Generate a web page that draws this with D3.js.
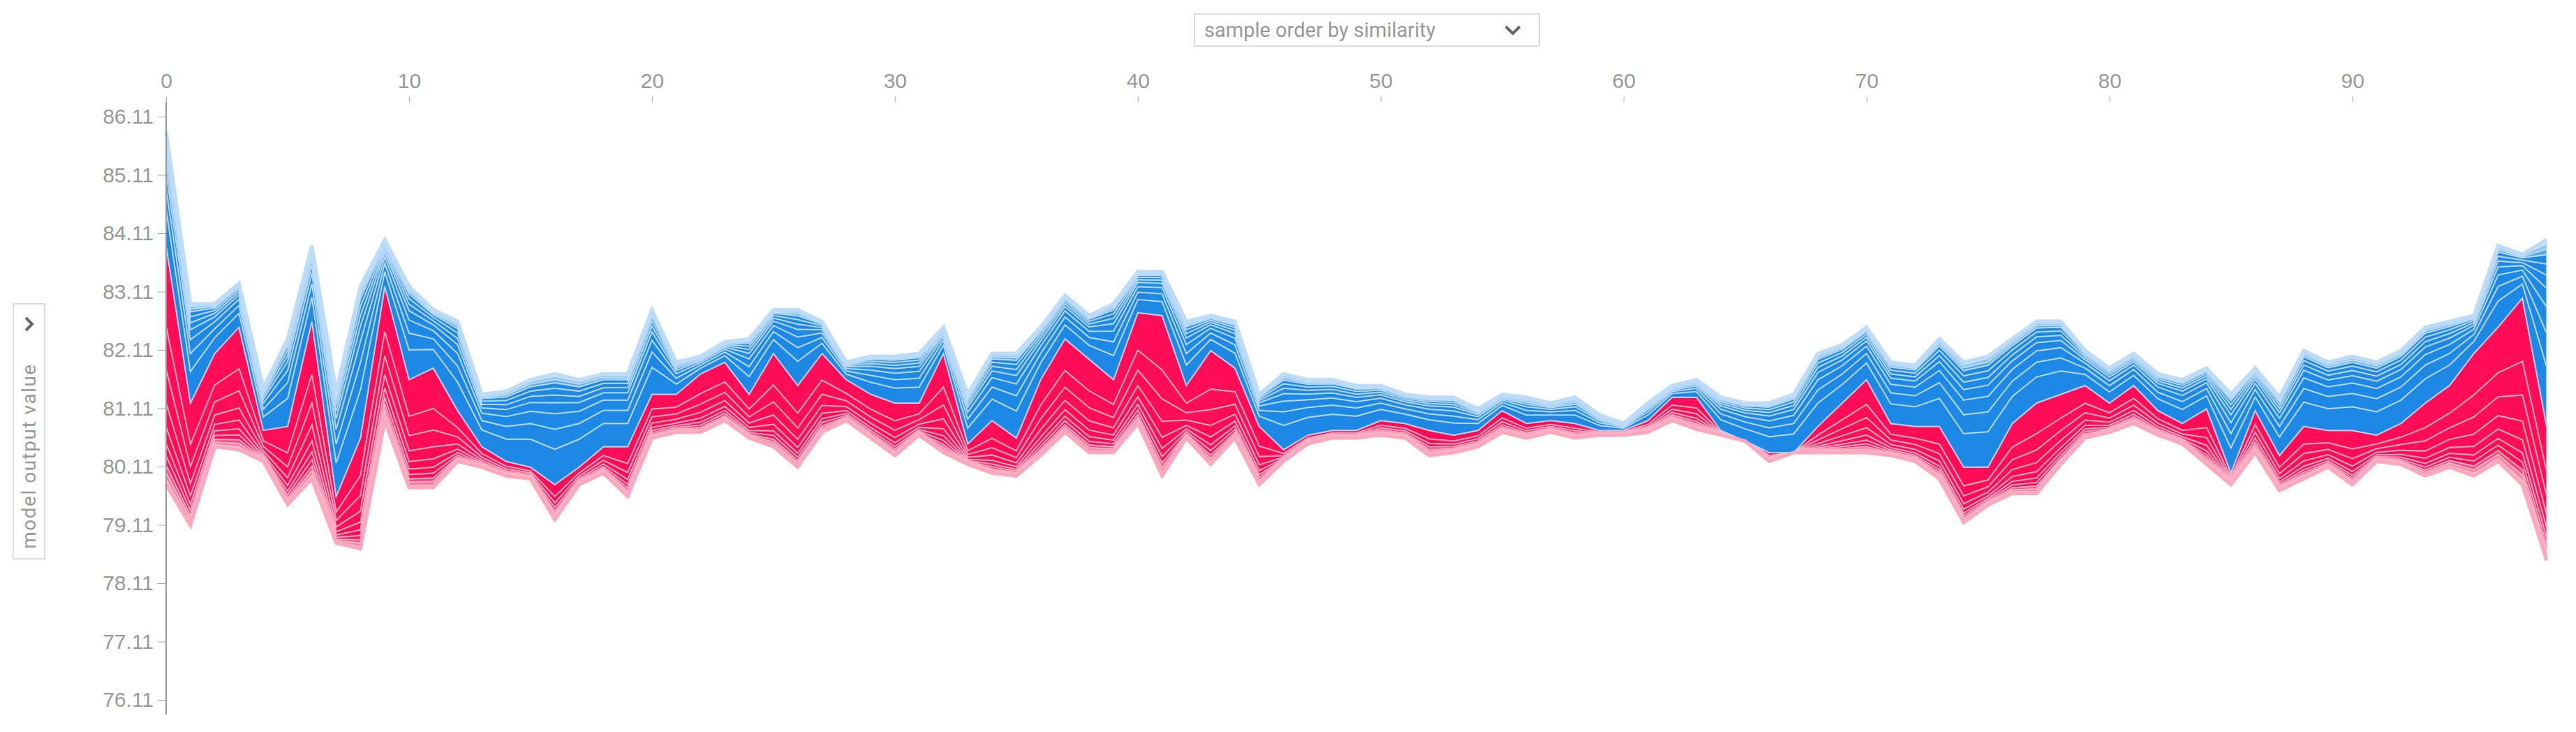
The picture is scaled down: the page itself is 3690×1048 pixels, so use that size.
<!DOCTYPE html>
<html>
<head>
<meta charset="utf-8">
<script src="https://cdn.jsdelivr.net/npm/d3@7"></script>
<style>
  body { margin: 0; background: #fff; }
  svg { display: block; font-family: Roboto, "Liberation Sans", sans-serif; }
  .tick text { fill: #999; font-size: 30px; }
  .tick line { stroke: #aaa; }
</style>
</head>
<body>
<svg id="chart" width="3690" height="1048"></svg>
<script>
// Sample order (0..98)
const samples = d3.range(99);

// Top of the blue (negative) stack per sample
const upper = [85.86,82.9,82.9,83.25,81.46,82.3,83.9,81.4,83.2,84.0,
  83.2,82.8,82.6,81.35,81.4,81.6,81.7,81.6,81.7,81.7,
  82.8,81.9,82.0,82.25,82.3,82.8,82.8,82.6,81.9,82.0,
  82.0,82.05,82.5,81.35,82.05,82.05,82.5,83.05,82.7,82.9,
  83.45,83.45,82.6,82.7,82.6,81.35,81.7,81.6,81.6,81.5,
  81.5,81.35,81.3,81.3,81.1,81.35,81.3,81.2,81.3,81.0,
  80.85,81.2,81.5,81.6,81.3,81.2,81.2,81.35,82.05,82.2,
  82.5,81.9,81.85,82.3,81.9,82.0,82.3,82.6,82.6,82.1,
  81.8,82.05,81.7,81.6,81.8,81.35,81.8,81.3,82.1,81.9,
  82.0,81.9,82.1,82.5,82.6,82.7,83.9,83.75,84.0];

// Model output value (red/blue boundary) per sample
const output = [83.9,81.2,82.05,82.5,80.73,80.8,82.6,79.6,80.6,83.2,
  81.6,81.8,81.07,80.45,80.2,80.1,79.8,80.1,80.45,80.45,
  81.35,81.35,81.7,81.9,81.35,82.05,81.5,82.05,81.6,81.35,
  81.2,81.2,82.05,80.5,80.9,80.6,81.6,82.3,81.95,81.6,
  82.75,82.7,81.5,82.1,81.8,80.8,80.4,80.65,80.73,80.73,
  80.9,80.85,80.73,80.65,80.73,81.07,80.85,80.9,80.85,80.73,
  80.73,80.9,81.3,81.3,80.73,80.55,80.35,80.35,80.8,81.2,
  81.6,80.85,80.8,80.8,80.1,80.1,80.85,81.2,81.35,81.5,
  81.2,81.5,81.07,80.85,81.1,80.0,81.07,80.3,80.8,80.73,
  80.73,80.65,80.85,81.2,81.5,82.05,82.5,83.0,80.8];

// Bottom of the red (positive) stack per sample
const lower = [79.8,79.1,80.45,80.4,80.2,79.46,79.9,78.8,78.7,80.9,
  79.75,79.75,80.2,80.1,79.95,79.9,79.2,79.8,80.0,79.6,
  80.6,80.7,80.7,80.9,80.6,80.45,80.1,80.7,80.9,80.6,
  80.3,80.65,80.35,80.15,80.0,79.95,80.3,80.7,80.35,80.35,
  80.85,79.95,80.6,80.15,80.6,79.8,80.2,80.5,80.6,80.6,
  80.65,80.6,80.3,80.35,80.45,80.7,80.6,80.7,80.6,80.65,
  80.65,80.7,80.9,80.75,80.65,80.55,80.2,80.35,80.35,80.35,
  80.35,80.3,80.2,79.9,79.15,79.45,79.65,79.65,80.15,80.6,
  80.7,80.85,80.65,80.5,80.15,79.8,80.35,79.7,79.9,80.1,
  79.8,80.2,80.15,79.95,80.1,79.95,80.2,79.8,78.5];

// Share of each feature in the red stack (from boundary downwards) and blue stack (upwards)
const redShares  = [0.34, 0.18, 0.14, 0.10, 0.07, 0.05, 0.04, 0.03, 0.03, 0.02];
const blueShares = [0.32, 0.18, 0.14, 0.10, 0.07, 0.06, 0.05, 0.03, 0.03, 0.02];

const yTicks = [86.11, 85.11, 84.11, 83.11, 82.11, 81.11, 80.11, 79.11, 78.11, 77.11, 76.11];
const xTicks = [0, 10, 20, 30, 40, 50, 60, 70, 80, 90];

const svg = d3.select('#chart');
const x = d3.scaleLinear().domain([0, 98]).range([238, 3648]);
const y = d3.scaleLinear().domain([76.11, 86.11]).range([1002, 167]);

// build band edges for a stack
function bands(shares, from, to) {
  const total = d3.sum(shares);
  let acc = 0;
  return shares.map((s, k) => {
    const a = acc / total, b = (acc + s) / total;
    acc += s;
    return { k, a, b, from, to };
  });
}

const area = (b) => d3.area()
  .x(i => x(i))
  .y0(i => b.from[i] + (b.to[i] - b.from[i]) * b.a)
  .y1(i => b.from[i] + (b.to[i] - b.from[i]) * b.b);

const lowerPx = lower.map(v => y(v)), outPx = output.map(v => y(v)), upperPx = upper.map(v => y(v));
const redBands = bands(redShares, outPx, lowerPx);
const blueBands = bands(blueShares, outPx, upperPx);

const redColor = d3.scaleLinear().domain([0, 6, 9]).range(['#ff0d57', '#ff0d57', '#ffb3c6']);
const blueColor = d3.scaleLinear().domain([0, 6, 9]).range(['#1e88e5', '#1e88e5', '#c6e1f8']);

const g = svg.append('g');
g.selectAll('path.red').data(redBands).join('path')
  .attr('class', 'red')
  .attr('d', b => area(b)(samples))
  .attr('fill', b => redColor(b.k))
  .attr('stroke', 'rgba(255,200,215,0.7)')
  .attr('stroke-width', 2);
g.selectAll('path.blue').data(blueBands).join('path')
  .attr('class', 'blue')
  .attr('d', b => area(b)(samples))
  .attr('fill', b => blueColor(b.k))
  .attr('stroke', 'rgba(200,225,250,0.75)')
  .attr('stroke-width', 2);

// outer soft edges
g.append('path').attr('d', d3.line().x(i => x(i)).y(i => lowerPx[i])(samples))
  .attr('fill', 'none').attr('stroke', '#ffa8bd').attr('stroke-width', 5);
g.append('path').attr('d', d3.line().x(i => x(i)).y(i => upperPx[i])(samples))
  .attr('fill', 'none').attr('stroke', '#bcdcf7').attr('stroke-width', 5);

// axes
const yAxis = svg.append('g').attr('transform', 'translate(238,0)')
  .call(d3.axisLeft(y).tickValues(yTicks).tickFormat(d3.format('.2f')).tickSize(12).tickPadding(6));
yAxis.select('.domain').remove();
svg.append('line').attr('x1', 238).attr('x2', 238).attr('y1', 146).attr('y2', 1023)
  .attr('stroke', '#999').attr('stroke-width', 2);

const xAxis = svg.append('g').attr('transform', 'translate(0,146)')
  .call(d3.axisTop(x).tickValues(xTicks).tickSize(8).tickPadding(12));
xAxis.select('.domain').remove();

// sort dropdown
const dd = svg.append('g').attr('transform', 'translate(1711,20)');
dd.append('rect').attr('width', 494).attr('height', 46).attr('fill', '#fff')
  .attr('stroke', '#ddd').attr('stroke-width', 2);
dd.append('text').attr('x', 14).attr('y', 33).attr('fill', '#999').attr('font-size', 29)
  .text('sample order by similarity');
dd.append('path').attr('d', 'M446,18 L456,28 L466,18').attr('fill', 'none')
  .attr('stroke', '#666').attr('stroke-width', 4);

// y label box
const yl = svg.append('g').attr('transform', 'translate(19,435)');
yl.append('rect').attr('width', 45).attr('height', 365).attr('fill', '#fff')
  .attr('stroke', '#ddd').attr('stroke-width', 2);
yl.append('path').attr('d', 'M18,20 L27,29 L18,38').attr('fill', 'none')
  .attr('stroke', '#666').attr('stroke-width', 4);
yl.append('text').attr('transform', 'translate(32,218) rotate(-90)')
  .attr('text-anchor', 'middle').attr('fill', '#999').attr('font-size', 28)
  .attr('letter-spacing', 1.5).text('model output value');
</script>
</body>
</html>
